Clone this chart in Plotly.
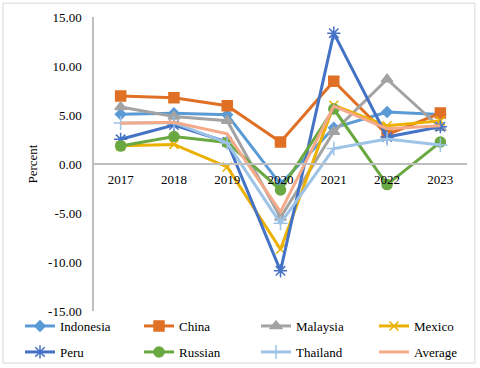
import plotly.graph_objects as go

years = ["2017", "2018", "2019", "2020", "2021", "2022", "2023"]

indonesia = [5.07, 5.17, 5.02, -2.07, 3.70, 5.31, 5.05]
china = [6.95, 6.75, 5.95, 2.24, 8.45, 2.99, 5.20]
malaysia = [5.81, 4.84, 4.41, -5.46, 3.30, 8.65, 3.70]
mexico = [1.85, 2.00, -0.30, -8.70, 6.00, 3.90, 4.40]
peru = [2.52, 3.97, 2.25, -10.90, 13.35, 2.75, 3.80]
russian = [1.83, 2.81, 2.20, -2.65, 5.61, -2.10, 2.24]
thailand = [4.18, 4.22, 2.15, -6.05, 1.57, 2.55, 1.95]
average = [4.15, 4.25, 3.08, -4.88, 5.90, 3.60, 3.90]

y_ticks = [-15, -10, -5, 0, 5, 10, 15]
y_ticktext = ["-15.00", "-10.00", "-5.00", "0.00", "5.00", "10.00", "15.00"]

serif = "Liberation Serif"

series = [
    ("Indonesia", indonesia, "#5B9BD5", "diamond", 8),
    ("China", china, "#E07025", "square", 10),
    ("Malaysia", malaysia, "#A3A3A3", "triangle-up", 10),
    ("Mexico", mexico, "#EBB000", "x-thin-open", 9),
    ("Peru", peru, "#4472C4", "asterisk-open", 11),
    ("Russian", russian, "#6AA842", "circle", 10),
    ("Thailand", thailand, "#9DC3E6", "cross-thin-open", 10),
    ("Average", average, "#F4AA88", None, 0),
]

# one legend per entry so the 2 x 4 grid sits where the reference has it
legend_x = [20, 139, 256, 374]
legend_y = [326, 352]

fig = go.Figure()
legends = {}
for i, (name, vals, color, symbol, size) in enumerate(series):
    leg = "legend" if i == 0 else f"legend{i + 1}"
    legends[leg] = dict(
        x=legend_x[i % 4] / 480, y=1 - legend_y[i // 4] / 368,
        xref="container", yref="container",
        xanchor="left", yanchor="middle", orientation="h",
        font=dict(family=serif, size=13, color="#000000"),
        bgcolor="rgba(0,0,0,0)", itemclick=False,
    )
    if symbol is None:
        fig.add_trace(go.Scatter(x=years, y=vals, name=name, mode="lines",
                                 line=dict(color=color, width=3), legend=leg,
                                 showlegend=True))
    else:
        fig.add_trace(go.Scatter(
            x=years, y=vals, name=name, mode="lines+markers",
            line=dict(color=color, width=3),
            marker=dict(symbol=symbol, size=size, color=color,
                        line=dict(color=color, width=1.5)),
            legend=leg, showlegend=True,
        ))

# light frame around the whole chart
fig.add_shape(type="rect", xref="paper", yref="paper",
              x0=-0.244, x1=1.021, y0=-0.177, y1=1.047,
              line=dict(color="#D9D9D9", width=1))

fig.update_layout(
    width=480,
    height=368,
    showlegend=True,
    margin=dict(l=94, r=13, t=17, b=57, autoexpand=False),
    paper_bgcolor="white",
    plot_bgcolor="white",
    font=dict(family=serif, size=13, color="#000000"),
    xaxis=dict(
        type="category",
        range=[-0.5, 6.5],
        anchor="free",
        position=0.5,
        showline=True,
        linecolor="#BFBFBF",
        linewidth=1.5,
        showgrid=False,
        ticks="",
        ticklabelstandoff=4,
        tickfont=dict(family=serif, size=13),
    ),
    yaxis=dict(
        range=[-15, 15],
        tickvals=y_ticks,
        ticktext=y_ticktext,
        showline=True,
        linecolor="#BFBFBF",
        linewidth=1.5,
        showgrid=False,
        zeroline=False,
        ticks="",
        ticklabelstandoff=8,
        tickfont=dict(family=serif, size=13),
        title=dict(text="Percent", font=dict(family=serif, size=13), standoff=8),
    ),
    **legends,
)

fig.write_html("out.html", config={"displayModeBar": False},
               post_script="document.body.style.margin = '0';")
